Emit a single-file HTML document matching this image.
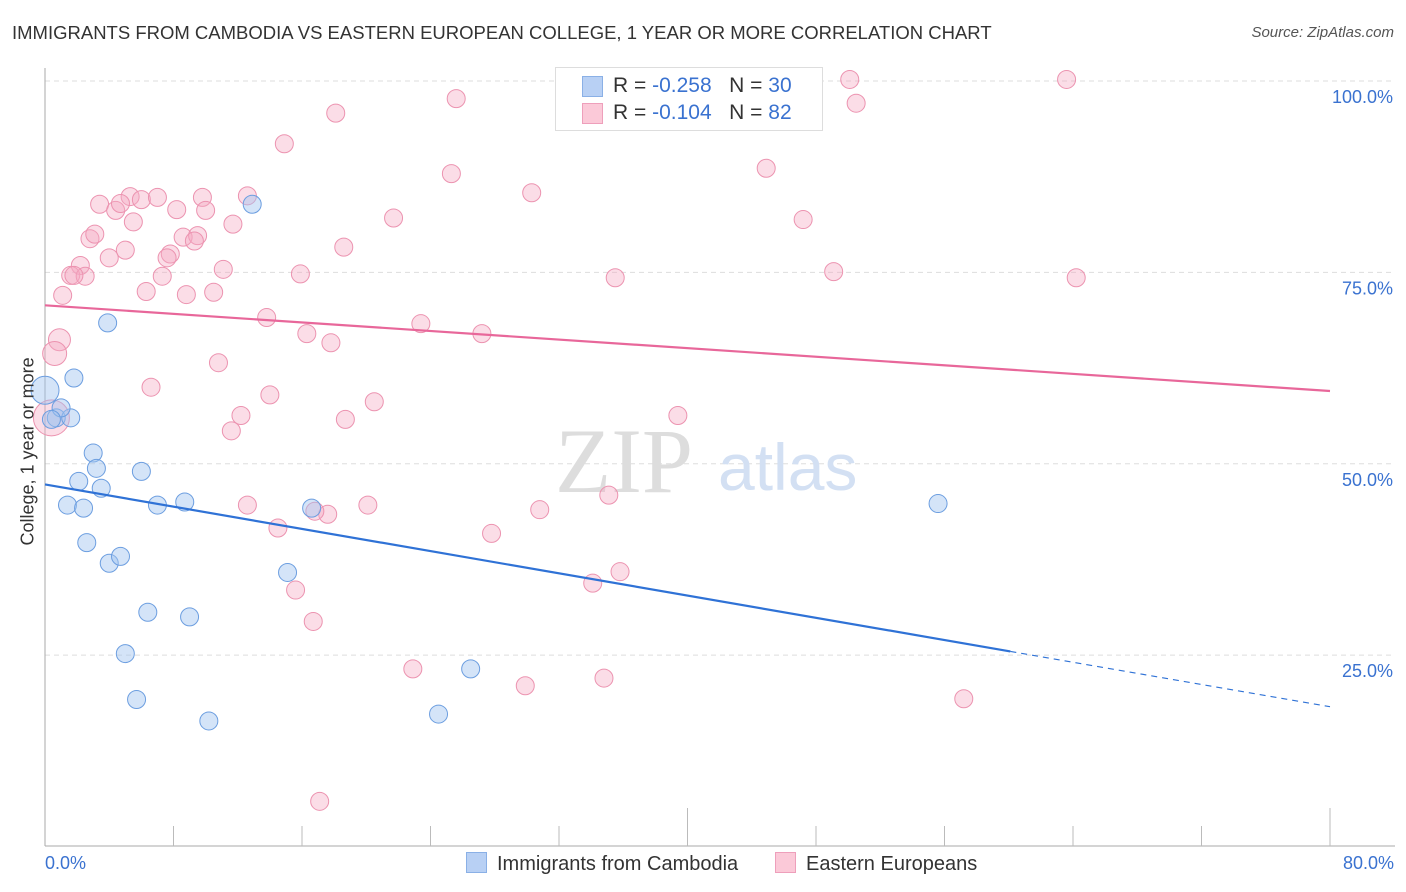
<!DOCTYPE html>
<html><head><meta charset="utf-8">
<style>
body{margin:0;background:#fff;font-family:"Liberation Sans",sans-serif;}
#wrap{position:relative;width:1406px;height:892px;overflow:hidden;}
.t{position:absolute;white-space:nowrap;}
</style></head>
<body>
<div id="wrap">
<div class="t" style="left:12px;top:22px;font-size:18.5px;color:#333;">IMMIGRANTS FROM CAMBODIA VS EASTERN EUROPEAN COLLEGE, 1 YEAR OR MORE CORRELATION CHART</div>
<div class="t" style="right:12px;top:24px;font-size:15px;color:#555;font-style:italic;">Source: ZipAtlas.com</div>
<svg id="chart" width="1406" height="892" style="position:absolute;left:0;top:0"></svg>
</div>
<script>
const xTicks=[0,8,16,24,32,40,48,56,64,72,80];
const yTicks=[25,50,75,100];
const blueX=[0,0.7,1.6,1.8,1.0,3.9,3.0,3.2,2.1,3.5,1.4,2.4,2.6,4.0,4.7,6.0,7.0,8.7,6.4,9.0,5.0,5.7,10.2,12.9,15.1,16.6,24.5,26.5,55.6,0.4];
const blueY=[59.6,56.0,56.0,61.2,57.3,68.4,51.4,49.4,47.7,46.8,44.6,44.2,39.7,37.0,37.9,49.0,44.6,45.0,30.6,30.0,25.2,19.2,16.4,83.9,35.8,44.2,17.3,23.2,44.8,55.8];
const blueR=[14,9,9,9,9,9,9,9,9,9,9,9,9,9,9,9,9,9,9,9,9,9,9,9,9,9,9,9,9,9];
const pinkX=[50.1,63.6,50.5,25.6,18.1,14.9,25.3,30.3,44.9,47.2,21.7,3.4,4.4,5.3,6.0,7.0,4.7,8.2,9.8,10.0,12.6,11.7,5.5,2.8,3.1,5.0,8.6,9.5,9.3,7.8,7.6,4.0,11.1,7.3,15.9,18.6,35.5,49.1,64.2,2.2,1.6,2.5,1.8,1.1,6.3,8.8,10.5,13.8,23.4,16.3,17.8,27.2,0.9,0.6,10.8,6.6,14.0,20.5,12.2,18.7,11.6,39.4,0.4,12.6,20.1,17.6,30.8,35.1,14.5,27.8,35.8,34.1,15.6,16.7,22.9,29.9,34.8,57.2,17.1,16.8];
const pinkY=[100.2,100.2,97.1,97.7,95.8,91.8,87.9,85.4,88.6,81.9,82.1,83.9,83.1,84.9,84.5,84.8,84.0,83.2,84.8,83.1,85.0,81.3,81.6,79.4,80.0,77.9,79.6,79.8,79.1,77.4,76.9,76.9,75.4,74.5,74.8,78.3,74.3,75.1,74.3,75.9,74.6,74.5,74.6,72.0,72.5,72.1,72.4,69.1,68.3,67.0,65.8,67.0,66.2,64.4,63.2,60.0,59.0,58.1,56.3,55.8,54.3,56.3,56.0,44.6,44.6,43.4,44.0,45.9,41.6,40.9,35.9,34.4,33.5,29.4,23.2,21.0,22.0,19.3,5.9,43.8];
const pinkR=[9,9,9,9,9,9,9,9,9,9,9,9,9,9,9,9,9,9,9,9,9,9,9,9,9,9,9,9,9,9,9,9,9,9,9,9,9,9,9,9,9,9,9,9,9,9,9,9,9,9,9,9,11,12,9,9,9,9,9,9,9,9,18,9,9,9,9,9,9,9,9,9,9,9,9,9,9,9,9,9];
const blueTrend=[47.3,-0.363];
const pinkTrend=[70.7,-0.14];
const blueSolidEnd=60.1;

const svg=document.getElementById('chart');const NS='http://www.w3.org/2000/svg';
const X0=45,X1=1330,Y0=846.5,Y100=81;
const sx=v=>X0+(X1-X0)*v/80, sy=v=>Y0+(Y100-Y0)*v/100;
function mk(tag,attrs,name,parent){const e=document.createElementNS(NS,tag);for(const k in attrs)e.setAttribute(k,attrs[k]);


(parent||svg).appendChild(e);return e;}
yTicks.forEach(v=>{mk('line',{x1:X0,x2:1395,y1:sy(v),y2:sy(v),stroke:'#ddd','stroke-dasharray':'5,4'},'y-gridline');
const t=mk('text',{x:1393,y:sy(v)+22,'text-anchor':'end','font-size':18,fill:'#3a72d0','font-family':'Liberation Sans'},'y-tick-label');t.textContent=v.toFixed(1)+'%';});
mk('line',{x1:X0,x2:X0,y1:68,y2:846,stroke:'#aaa'},'y-axis');
mk('line',{x1:X0,x2:1395,y1:846,y2:846,stroke:'#aaa'},'x-axis');
xTicks.forEach((v,i)=>{if(i>0)mk('line',{x1:sx(v),x2:sx(v),y1:(i%5==0)?808:826,y2:846,stroke:'#bbb'},'x-tick');});
let w=mk('text',{x:555,y:492,'font-size':92,fill:'#ddd','font-family':'Liberation Serif'},'watermark-zip');w.textContent='ZIP';
w=mk('text',{x:718,y:490,'font-size':66,fill:'#d3e0f3','font-family':'Liberation Sans'},'watermark-atlas');w.textContent='atlas';
pinkX.forEach((x,i)=>mk('circle',{cx:sx(x),cy:sy(pinkY[i]),r:pinkR[i],fill:'rgba(246,170,195,0.4)',stroke:'#ec93b0','stroke-width':1},'pink-point'));
blueX.forEach((x,i)=>mk('circle',{cx:sx(x),cy:sy(blueY[i]),r:blueR[i],fill:'rgba(160,195,240,0.45)',stroke:'#6c9ee0','stroke-width':1},'blue-point'));
mk('line',{x1:sx(0),y1:sy(pinkTrend[0]),x2:sx(80),y2:sy(pinkTrend[0]+pinkTrend[1]*80),stroke:'#e8679a','stroke-width':2.2},'pink-trend-line');
mk('line',{x1:sx(0),y1:sy(blueTrend[0]),x2:sx(blueSolidEnd),y2:sy(blueTrend[0]+blueTrend[1]*blueSolidEnd),stroke:'#2f72d6','stroke-width':2.2},'blue-trend-line');
mk('line',{x1:sx(blueSolidEnd),y1:sy(blueTrend[0]+blueTrend[1]*blueSolidEnd),x2:sx(80),y2:sy(blueTrend[0]+blueTrend[1]*80),stroke:'#2f72d6','stroke-width':1.2,'stroke-dasharray':'6,5'},'blue-trend-dashed');
</script>
<div class="t" style="left:-62px;top:445px;font-size:18px;color:#333;transform:rotate(-90deg);width:180px;text-align:center;">College, 1 year or more</div>
<div class="t" style="left:45px;top:853px;font-size:18px;color:#3a72d0;">0.0%</div>
<div class="t" style="right:12px;top:853px;font-size:18px;color:#3a72d0;">80.0%</div>
<div style="position:absolute;left:555px;top:67px;width:266px;height:62px;border:1px solid #ddd;background:#fff;font-size:21px;">
 <div style="position:absolute;left:26px;top:8px;width:19px;height:19px;background:#b8d0f4;border:1px solid #8ab0e6;"></div>
 <div class="t" style="left:57px;top:6px;color:#333;">R = <span style="color:#3a72d0">-0.258</span>&nbsp;&nbsp;&nbsp;N = <span style="color:#3a72d0">30</span></div>
 <div style="position:absolute;left:26px;top:35px;width:19px;height:19px;background:#fbc9d8;border:1px solid #ee9fbb;"></div>
 <div class="t" style="left:57px;top:33px;color:#333;">R = <span style="color:#3a72d0">-0.104</span>&nbsp;&nbsp;&nbsp;N = <span style="color:#3a72d0">82</span></div>
</div>
<div style="position:absolute;left:466px;top:852px;font-size:20px;color:#333;">
 <span style="display:inline-block;width:19px;height:19px;background:#b8d0f4;border:1px solid #8ab0e6;vertical-align:-3px;margin-right:10px;"></span>Immigrants from Cambodia</div>
<div style="position:absolute;left:775px;top:852px;font-size:20px;color:#333;">
 <span style="display:inline-block;width:19px;height:19px;background:#fbc9d8;border:1px solid #ee9fbb;vertical-align:-3px;margin-right:10px;"></span>Eastern Europeans</div>
</body></html>
